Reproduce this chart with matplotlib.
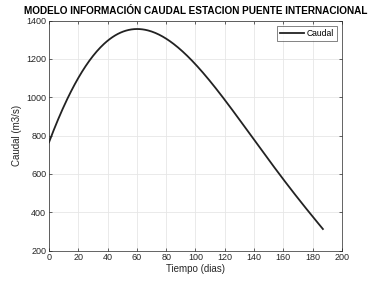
import numpy as np
import matplotlib.pyplot as plt

plt.rcParams['font.family'] = ['Liberation Sans', 'DejaVu Sans']

# caudal (dias, m3/s)
dias = [0, 10, 20, 30, 40, 50, 60, 70, 80, 90, 100, 110, 120, 130, 140, 150, 160, 170, 180, 187]
caudal = [765, 950, 1105, 1215, 1290, 1338, 1357, 1348, 1310, 1248, 1168, 1078, 985, 885, 782, 678, 572, 470, 375, 316]

# curva suave entre los puntos leidos
xs = np.linspace(dias[0], dias[-1], 300)
coef = np.polyfit(dias, caudal, 5)
ys = np.polyval(coef, xs)

fig = plt.figure(figsize=(3.77, 2.82), dpi=100)
ax = fig.add_axes([0.130, 0.111, 0.777, 0.816])
ax.plot(xs, ys, color='#222222', linewidth=1.3, label='Caudal')

ax.set_xlim(0, 200)
ax.set_ylim(200, 1400)
ax.set_xticks(range(0, 201, 20))
ax.set_yticks(range(200, 1401, 200))
ax.grid(True, color='#e6e6e6', linewidth=0.6)
ax.set_axisbelow(True)
ax.tick_params(direction='in', top=True, right=True, labelsize=6.5, length=2.5,
               width=0.5, colors='#262626', pad=2)
for s in ax.spines.values():
    s.set_linewidth(0.5)
    s.set_color('#262626')

ax.set_title('MODELO INFORMACIÓN CAUDAL ESTACION PUENTE INTERNACIONAL',
             fontsize=7.2, fontweight='bold', pad=5)
ax.set_xlabel('Tiempo (dias)', fontsize=7, labelpad=1, color='#262626')
ax.set_ylabel('Caudal (m3/s)', fontsize=7, labelpad=3, color='#262626')

leg = ax.legend(loc='upper right', fontsize=6.2, frameon=True, fancybox=False,
                edgecolor='#262626', borderpad=0.35, handlelength=2.8,
                handletextpad=0.3, borderaxespad=0.6)
leg.get_frame().set_linewidth(0.5)

fig.savefig('out.png', dpi=100)
